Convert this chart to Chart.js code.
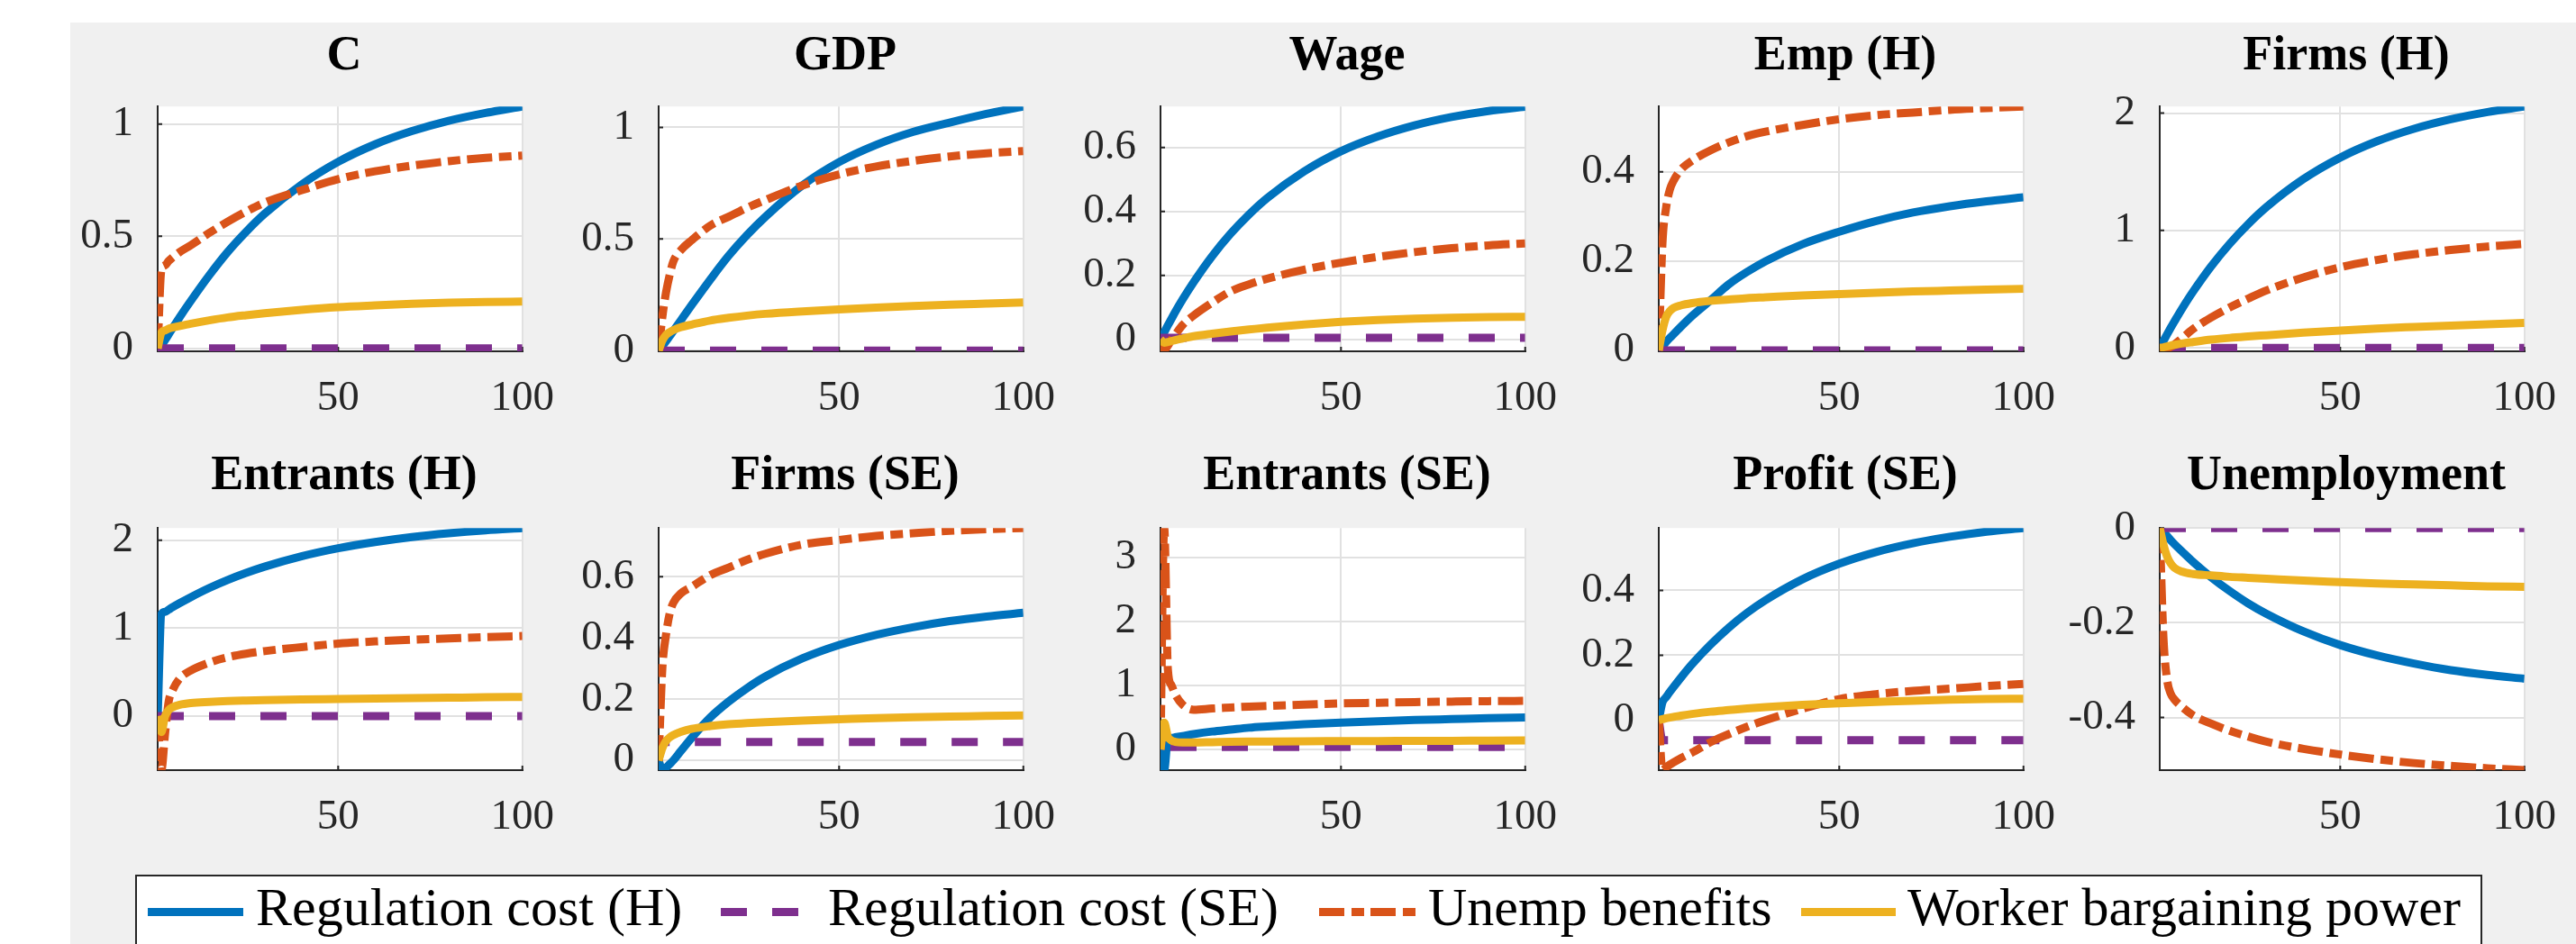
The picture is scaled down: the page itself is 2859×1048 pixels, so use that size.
<!DOCTYPE html>
<html>
<head>
<meta charset="utf-8">
<script src="https://cdn.jsdelivr.net/npm/chart.js@4.4.1/dist/chart.umd.min.js"></script>
<style>
html, body { margin: 0; padding: 0; width: 2859px; height: 1048px; overflow: hidden; background: #fff; }
#fig { position: absolute; left: 78px; top: 25px; width: 2781px; height: 1023px; background: #f0f0f0; }
.title { position: absolute; width: 414px; text-align: center; font: bold 54px "Liberation Serif"; line-height: 54px; color: #000; white-space: nowrap; }
.panel { position: absolute; }
#legend { position: absolute; left: 150px; top: 971px; width: 2601px; height: 120px; background: #fff; border: 2px solid #262626; }
.lgline { position: absolute; top: 1008px; height: 9px; }
.lgtext { position: absolute; top: 977px; font: 60px "Liberation Serif"; line-height: 60px; color: #000; white-space: nowrap; }
</style>
</head>
<body>
<div id="fig"></div>
<div id="legend"></div>
<script>
/* ---------- Data ---------- */
const t = [1, 2, 3, 4, 5, 7, 10, 15, 20, 25, 30, 40, 50, 60, 70, 80, 90, 100];

const titles = ["C", "GDP", "Wage", "Emp (H)", "Firms (H)",
                "Entrants (H)", "Firms (SE)", "Entrants (SE)", "Profit (SE)", "Unemployment"];
const seriesNames = ["Regulation cost (H)", "Regulation cost (SE)", "Unemp benefits", "Worker bargaining power"];

const cRegH   = [-0.012, 0.012, 0.037, 0.063, 0.089, 0.14, 0.212, 0.326, 0.43, 0.52, 0.6, 0.73, 0.832, 0.91, 0.969, 1.015, 1.05, 1.079];
const cRegSE  = [0, 0, 0, 0, 0, 0, 0, 0, 0, 0, 0, 0, 0, 0, 0, 0, 0, 0];
const cUnemp  = [0, 0.35, 0.37, 0.39, 0.405, 0.43, 0.46, 0.515, 0.565, 0.61, 0.65, 0.705, 0.755, 0.79, 0.815, 0.835, 0.85, 0.86];
const cBarg   = [0, 0.07, 0.08, 0.088, 0.093, 0.1, 0.11, 0.125, 0.138, 0.148, 0.157, 0.172, 0.184, 0.192, 0.199, 0.204, 0.207, 0.209];

const gdpRegH  = [0, 0.02, 0.042, 0.065, 0.088, 0.135, 0.205, 0.318, 0.425, 0.518, 0.6, 0.74, 0.845, 0.922, 0.98, 1.022, 1.061, 1.094];
const gdpRegSE = [0, 0, 0, 0, 0, 0, 0, 0, 0, 0, 0, 0, 0, 0, 0, 0, 0, 0];
const gdpUnemp = [0, 0.15, 0.26, 0.34, 0.4, 0.45, 0.495, 0.56, 0.6, 0.64, 0.675, 0.74, 0.79, 0.825, 0.85, 0.87, 0.884, 0.894];
const gdpBarg  = [0, 0.045, 0.07, 0.083, 0.092, 0.105, 0.117, 0.135, 0.147, 0.157, 0.165, 0.176, 0.185, 0.193, 0.2, 0.206, 0.211, 0.216];

const wageRegH  = [0, 0.022, 0.044, 0.065, 0.086, 0.125, 0.179, 0.26, 0.33, 0.39, 0.442, 0.525, 0.588, 0.634, 0.669, 0.695, 0.714, 0.727];
const wageRegSE = [0.005, 0.005, 0.005, 0.005, 0.005, 0.005, 0.005, 0.005, 0.005, 0.005, 0.005, 0.005, 0.005, 0.005, 0.005, 0.005, 0.005, 0.005];
const wageUnemp = [0, -0.032, -0.02, 0, 0.015, 0.045, 0.075, 0.115, 0.15, 0.172, 0.19, 0.218, 0.24, 0.258, 0.273, 0.285, 0.294, 0.3];
const wageBarg  = [0, -0.01, -0.008, -0.005, -0.002, 0.003, 0.01, 0.018, 0.025, 0.031, 0.037, 0.047, 0.055, 0.061, 0.065, 0.068, 0.07, 0.071];

const empRegH  = [0, 0.009, 0.019, 0.028, 0.036, 0.053, 0.077, 0.112, 0.148, 0.176, 0.2, 0.238, 0.266, 0.29, 0.309, 0.323, 0.334, 0.343];
const empRegSE = [0, 0, 0, 0, 0, 0, 0, 0, 0, 0, 0, 0, 0, 0, 0, 0, 0, 0];
const empUnemp = [0, 0.24, 0.32, 0.36, 0.38, 0.405, 0.425, 0.448, 0.466, 0.48, 0.49, 0.505, 0.518, 0.527, 0.533, 0.539, 0.543, 0.5465];
const empBarg  = [0, 0.045, 0.075, 0.088, 0.095, 0.101, 0.106, 0.111, 0.114, 0.117, 0.119, 0.123, 0.126, 0.129, 0.132, 0.134, 0.136, 0.138];

const firmsHRegH  = [0, 0.059, 0.116, 0.172, 0.226, 0.331, 0.477, 0.696, 0.887, 1.054, 1.2, 1.438, 1.621, 1.76, 1.866, 1.947, 2.009, 2.056];
const firmsHRegSE = [0, 0, 0, 0, 0, 0, 0, 0, 0, 0, 0, 0, 0, 0, 0, 0, 0, 0];
const firmsHUnemp = [0, -0.025, -0.01, 0.01, 0.03, 0.08, 0.16, 0.26, 0.345, 0.42, 0.49, 0.6, 0.687, 0.749, 0.797, 0.834, 0.863, 0.885];
const firmsHBarg  = [0, 0.005, 0.012, 0.02, 0.026, 0.037, 0.05, 0.07, 0.085, 0.097, 0.108, 0.13, 0.148, 0.165, 0.178, 0.19, 0.202, 0.213];

const entHRegH  = [0, 1.16, 1.187, 1.212, 1.238, 1.286, 1.354, 1.458, 1.549, 1.629, 1.7, 1.818, 1.91, 1.981, 2.037, 2.08, 2.114, 2.14];
const entHRegSE = [0, 0, 0, 0, 0, 0, 0, 0, 0, 0, 0, 0, 0, 0, 0, 0, 0, 0];
const entHUnemp = [0, -0.61, -0.2, 0.17, 0.29, 0.43, 0.52, 0.61, 0.67, 0.71, 0.74, 0.785, 0.825, 0.85, 0.87, 0.885, 0.9, 0.912];
const entHBarg  = [0, -0.18, 0, 0.07, 0.1, 0.13, 0.15, 0.163, 0.172, 0.178, 0.183, 0.19, 0.195, 0.2, 0.205, 0.21, 0.215, 0.219];

const firmsSERegH  = [0, -0.032, -0.024, -0.012, 0, 0.03, 0.074, 0.14, 0.192, 0.236, 0.274, 0.333, 0.377, 0.41, 0.435, 0.455, 0.47, 0.482];
const firmsSERegSE = [0, 0.06, 0.06, 0.06, 0.06, 0.06, 0.06, 0.06, 0.06, 0.06, 0.06, 0.06, 0.06, 0.06, 0.06, 0.06, 0.06, 0.06];
const firmsSEUnemp = [0, 0.3, 0.41, 0.48, 0.515, 0.545, 0.567, 0.605, 0.63, 0.655, 0.675, 0.705, 0.72, 0.733, 0.742, 0.75, 0.755, 0.759];
const firmsSEBarg  = [0, 0.04, 0.063, 0.075, 0.083, 0.093, 0.103, 0.112, 0.118, 0.122, 0.125, 0.13, 0.134, 0.138, 0.141, 0.143, 0.145, 0.147];

const entSERegH  = [0, -0.32, 0.17, 0.18, 0.19, 0.21, 0.24, 0.28, 0.31, 0.34, 0.36, 0.395, 0.42, 0.44, 0.46, 0.475, 0.49, 0.5];
const entSERegSE = [0, 0.4, 0.05, 0.04, 0.04, 0.04, 0.04, 0.04, 0.04, 0.04, 0.04, 0.04, 0.04, 0.04, 0.04, 0.04, 0.04, 0.04];
const entSEUnemp = [0, 3.46, 1.25, 1.0, 0.86, 0.7, 0.62, 0.64, 0.655, 0.67, 0.68, 0.7, 0.72, 0.73, 0.74, 0.748, 0.755, 0.76];
const entSEBarg  = [0, 0.42, 0.2, 0.14, 0.12, 0.11, 0.11, 0.115, 0.12, 0.123, 0.125, 0.128, 0.13, 0.132, 0.134, 0.136, 0.138, 0.14];

const profRegH  = [0, 0.055, 0.071, 0.087, 0.102, 0.131, 0.172, 0.232, 0.285, 0.331, 0.37, 0.434, 0.482, 0.518, 0.545, 0.565, 0.581, 0.592];
const profRegSE = [0, -0.062, -0.062, -0.062, -0.062, -0.062, -0.062, -0.062, -0.062, -0.062, -0.062, -0.062, -0.062, -0.062, -0.062, -0.062, -0.062, -0.062];
const profUnemp = [0, -0.154, -0.145, -0.137, -0.13, -0.117, -0.1, -0.068, -0.043, -0.02, 0, 0.035, 0.065, 0.08, 0.09, 0.097, 0.105, 0.112];
const profBarg  = [0, 0.003, 0.006, 0.008, 0.01, 0.014, 0.019, 0.026, 0.031, 0.036, 0.04, 0.047, 0.052, 0.056, 0.06, 0.063, 0.065, 0.066];

const unRegH  = [0, -0.009, -0.017, -0.026, -0.034, -0.049, -0.071, -0.104, -0.133, -0.159, -0.181, -0.218, -0.247, -0.269, -0.286, -0.3, -0.31, -0.318];
const unRegSE = [0, 0, 0, 0, 0, 0, 0, 0, 0, 0, 0, 0, 0, 0, 0, 0, 0, 0];
const unUnemp = [0, -0.23, -0.32, -0.35, -0.362, -0.377, -0.395, -0.413, -0.428, -0.44, -0.451, -0.466, -0.478, -0.488, -0.496, -0.502, -0.507, -0.511];
const unBarg  = [0, -0.035, -0.06, -0.075, -0.084, -0.092, -0.097, -0.1, -0.103, -0.105, -0.107, -0.111, -0.114, -0.117, -0.119, -0.121, -0.123, -0.124];

const yMin = [-0.013, -0.003, -0.037, -0.002, -0.029, -0.614, -0.032, -0.323, -0.154, -0.511];
const yMax = [1.079, 1.094, 0.728, 0.5465, 2.056, 2.14, 0.759, 3.46, 0.592, 0];
const yTicks = [[0, 0.5, 1], [0, 0.5, 1], [0, 0.2, 0.4, 0.6], [0, 0.2, 0.4], [0, 1, 2],
                [0, 1, 2], [0, 0.2, 0.4, 0.6], [0, 1, 2, 3], [0, 0.2, 0.4], [-0.4, -0.2, 0]];
const xTicks = [50, 100];

const panels = [
    [cRegH, cRegSE, cUnemp, cBarg],
    [gdpRegH, gdpRegSE, gdpUnemp, gdpBarg],
    [wageRegH, wageRegSE, wageUnemp, wageBarg],
    [empRegH, empRegSE, empUnemp, empBarg],
    [firmsHRegH, firmsHRegSE, firmsHUnemp, firmsHBarg],
    [entHRegH, entHRegSE, entHUnemp, entHBarg],
    [firmsSERegH, firmsSERegSE, firmsSEUnemp, firmsSEBarg],
    [entSERegH, entSERegSE, entSEUnemp, entSEBarg],
    [profRegH, profRegSE, profUnemp, profBarg],
    [unRegH, unRegSE, unUnemp, unBarg]
];

/* ---------- Styles ---------- */
const colors = ["#0072BD", "#7E2F8E", "#D95319", "#EDB120"];
const dashes = [[], [29, 28], [28, 7.5, 14, 7.5], []];
const drawOrder = [4, 3, 2, 1];

const colLeft = [175, 731, 1288, 1841, 2397];
const rowTop = [103, 571];
const rowH = [287, 284];
const titleTop = [32, 498];
const PW = 414, YW = 130, PT = 40, PR = 50, XH = 90;

Chart.defaults.font.family = "Liberation Serif";

/* ---------- Plugins ---------- */
const chartBg = {
    id: "chartBg",
    beforeDraw(chart) {
        const a = chart.chartArea, ctx = chart.ctx;
        ctx.save();
        ctx.fillStyle = "#ffffff";
        ctx.fillRect(a.left, a.top, a.right - a.left, a.bottom - a.top);
        ctx.restore();
    }
};

// MATLAB draws its tick marks inside the axes
const innerTicks = {
    id: "innerTicks",
    beforeDatasetsDraw(chart) {
        const a = chart.chartArea, ctx = chart.ctx;
        const xs = chart.scales.x, ys = chart.scales.y;
        ctx.save();
        ctx.strokeStyle = "#262626";
        ctx.lineWidth = 2;
        ctx.beginPath();
        xs.ticks.forEach(tk => {
            const px = xs.getPixelForValue(tk.value);
            ctx.moveTo(px, a.bottom);
            ctx.lineTo(px, a.bottom - 5);
        });
        ys.ticks.forEach(tk => {
            const py = ys.getPixelForValue(tk.value);
            ctx.moveTo(a.left, py);
            ctx.lineTo(a.left + 5, py);
        });
        ctx.stroke();
        ctx.restore();
    }
};

/* ---------- Panels ---------- */
const tickFont = { family: "Liberation Serif", size: 47 };

panels.forEach((series, p) => {
    const r = Math.floor(p / 5), c = p % 5;

    const title = document.createElement("div");
    title.className = "title";
    title.style.left = colLeft[c] + "px";
    title.style.top = titleTop[r] + "px";
    title.textContent = titles[p];
    document.body.appendChild(title);

    const w = YW + PW + PR, h = PT + rowH[r] + XH;
    const box = document.createElement("div");
    box.className = "panel";
    box.style.left = (colLeft[c] - YW) + "px";
    box.style.top = (rowTop[r] - PT) + "px";
    box.style.width = w + "px";
    box.style.height = h + "px";
    const canvas = document.createElement("canvas");
    canvas.width = w;
    canvas.height = h;
    box.appendChild(canvas);
    document.body.appendChild(box);

    new Chart(canvas, {
        type: "line",
        data: {
            datasets: series.map((vals, i) => ({
                label: seriesNames[i],
                data: t.map((x, k) => ({ x: x, y: vals[k] })),
                borderColor: colors[i],
                borderWidth: 9,
                borderDash: dashes[i],
                borderCapStyle: "butt",
                borderJoinStyle: "round",
                cubicInterpolationMode: "monotone",
                pointRadius: 0,
                fill: false,
                order: drawOrder[i]
            }))
        },
        options: {
            responsive: false,
            animation: false,
            devicePixelRatio: 1,
            layout: { padding: { top: PT, right: PR, left: 0, bottom: 0 } },
            plugins: { legend: { display: false }, tooltip: { enabled: false }, title: { display: false } },
            scales: {
                x: {
                    type: "linear",
                    min: 1,
                    max: 100,
                    afterBuildTicks: s => { s.ticks = xTicks.map(v => ({ value: v })); },
                    afterFit: s => { s.height = XH; },
                    grid: { color: "#e1e1e1", lineWidth: 2, drawTicks: false },
                    border: { display: true, color: "#262626", width: 2 },
                    ticks: { padding: 24, color: "#262626", font: tickFont, maxRotation: 0, autoSkip: false, callback: v => String(v) }
                },
                y: {
                    type: "linear",
                    min: yMin[p],
                    max: yMax[p],
                    afterBuildTicks: s => { s.ticks = yTicks[p].map(v => ({ value: v })); },
                    afterFit: s => { s.width = YW; },
                    grid: { color: "#e1e1e1", lineWidth: 2, drawTicks: false },
                    border: { display: true, color: "#262626", width: 2 },
                    ticks: { padding: 27, color: "#262626", font: tickFont, autoSkip: false, callback: v => String(v) }
                }
            }
        },
        plugins: [chartBg, innerTicks]
    });
});

/* ---------- Legend ---------- */
const lgLineLeft = [164, 800, 1464, 1999];
const lgLineWidth = [106, 86, 107, 105];
const lgTextLeft = [284, 919, 1585, 2117];
const lgBackground = [
    colors[0],
    "repeating-linear-gradient(90deg, " + colors[1] + " 0 29px, transparent 29px 57px)",
    "repeating-linear-gradient(90deg, " + colors[2] + " 0 28px, transparent 28px 36px, " + colors[2] + " 36px 50px, transparent 50px 57px)",
    colors[3]
];

seriesNames.forEach((name, i) => {
    const line = document.createElement("div");
    line.className = "lgline";
    line.style.left = lgLineLeft[i] + "px";
    line.style.width = lgLineWidth[i] + "px";
    line.style.background = lgBackground[i];
    document.body.appendChild(line);

    const txt = document.createElement("div");
    txt.className = "lgtext";
    txt.style.left = lgTextLeft[i] + "px";
    txt.textContent = name;
    document.body.appendChild(txt);
});
</script>
</body>
</html>
